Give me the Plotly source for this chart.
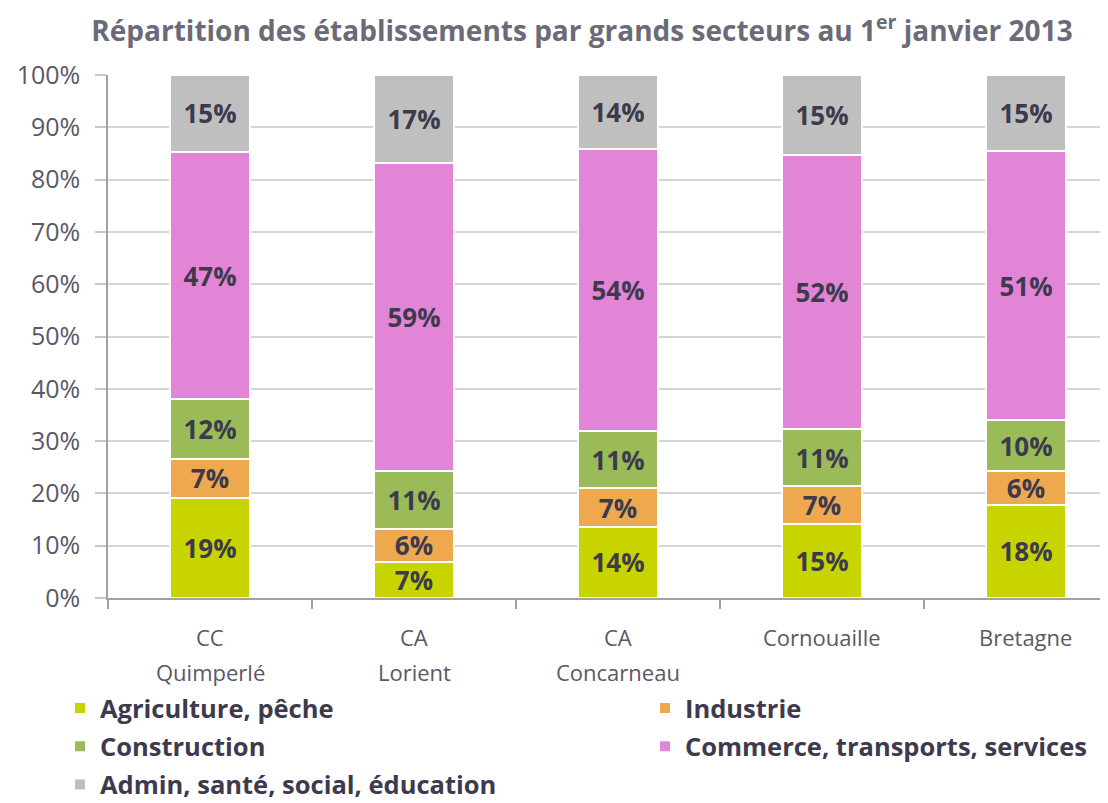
import plotly.graph_objects as go

categories = ["CC<br>Quimperlé", "CA<br>Lorient", "CA<br>Concarneau", "Cornouaille", "Bretagne"]
series_names = ["Agriculture, pêche", "Industrie", "Construction",
                "Commerce, transports, services", "Admin, santé, social, éducation"]
colors = ["#c8d400", "#eea94f", "#9bbb59", "#e385d6", "#bfbfbf"]
legend_ids = ["legend", "legend2", "legend", "legend2", "legend"]

agriculture = [19.1, 6.9, 13.6, 14.1, 17.8]
industrie = [7.5, 6.3, 7.4, 7.3, 6.5]
construction = [11.4, 11.1, 10.9, 10.9, 9.7]
commerce = [47.3, 58.9, 54.0, 52.4, 51.5]
admin = [14.7, 16.8, 14.1, 15.3, 14.5]

agriculture_lbl = ["19%", "7%", "14%", "15%", "18%"]
industrie_lbl = ["7%", "6%", "7%", "7%", "6%"]
construction_lbl = ["12%", "11%", "11%", "11%", "10%"]
commerce_lbl = ["47%", "59%", "54%", "52%", "51%"]
admin_lbl = ["15%", "17%", "14%", "15%", "15%"]

y_ticks = [0, 10, 20, 30, 40, 50, 60, 70, 80, 90, 100]
y_ticklabels = [f"{v}%" for v in y_ticks]

values = [agriculture, industrie, construction, commerce, admin]
labels = [agriculture_lbl, industrie_lbl, construction_lbl, commerce_lbl, admin_lbl]

TXT = "#3d3a4e"
TICK = "#5a5866"
W, H = 1108, 803

fig = go.Figure()
for i, (name, col, vals, lbl, lg) in enumerate(zip(series_names, colors, values, labels, legend_ids)):
    fig.add_trace(go.Bar(
        name=name, x=list(range(len(categories))), y=vals,
        marker=dict(color=col, line=dict(color="white", width=2)),
        text=lbl, textposition="inside", insidetextanchor="middle",
        textangle=0, constraintext="none",
        textfont=dict(family="Open Sans", size=26, color=TXT, weight="bold"),
        width=0.392, hoverinfo="skip",
        legend=lg, legendgroup=f"g{i}",
    ))

legend_font = dict(family="Open Sans", size=25.5, color=TXT, weight="bold")

fig.update_layout(
    barmode="stack",
    width=W, height=H,
    margin=dict(l=100, r=8, t=67, b=213, autoexpand=False),
    plot_bgcolor="white", paper_bgcolor="white",
    title=dict(
        text="Répartition des établissements par grands secteurs au 1<sup>er</sup> janvier 2013",
        x=574 / W, xanchor="center", xref="container",
        y=1 - 23 / H, yanchor="middle", yref="container",
        font=dict(family="Open Sans", size=28, color="#6b6a78", weight="bold"),
    ),
    xaxis=dict(
        range=[-0.5, 4.402], tickvals=[-0.5, 0.5, 1.5, 2.5, 3.5, 4.5],
        showticklabels=False, ticks="outside", ticklen=9, tickcolor="#a0a0a0", tickwidth=1.5,
        showline=True, linecolor="#a0a0a0", linewidth=1.5, showgrid=False, zeroline=False,
    ),
    yaxis=dict(
        range=[0, 100], tickvals=y_ticks, ticktext=y_ticklabels,
        ticks="outside", ticklen=11, tickcolor="#c8c8c8", tickwidth=1.5,
        ticklabelstandoff=10,
        showline=True, linecolor="#a0a0a0", linewidth=1.5,
        showgrid=True, gridcolor="#d4d4d4", gridwidth=1.5, zeroline=False,
        tickfont=dict(family="Open Sans", size=25, color=TICK),
    ),
    legend=dict(
        orientation="v", xref="container", yref="container",
        x=52 / W, xanchor="left", y=1 - 677 / H, yanchor="top",
        font=legend_font, traceorder="grouped", tracegroupgap=2, itemwidth=30,
        bgcolor="rgba(0,0,0,0)",
    ),
    legend2=dict(
        orientation="v", xref="container", yref="container",
        x=637 / W, xanchor="left", y=1 - 677 / H, yanchor="top",
        font=legend_font, traceorder="grouped", tracegroupgap=2, itemwidth=30,
        bgcolor="rgba(0,0,0,0)",
    ),
)

for i, c in enumerate(categories):
    for j, line in enumerate(c.split("<br>")):
        fig.add_annotation(
            x=i, y=0, xref="x", yref="y", yanchor="middle", yshift=-(39 + 35 * j),
            text=line, showarrow=False,
            font=dict(family="Open Sans", size=22, color=TICK),
        )

fig.write_html("out.html")
